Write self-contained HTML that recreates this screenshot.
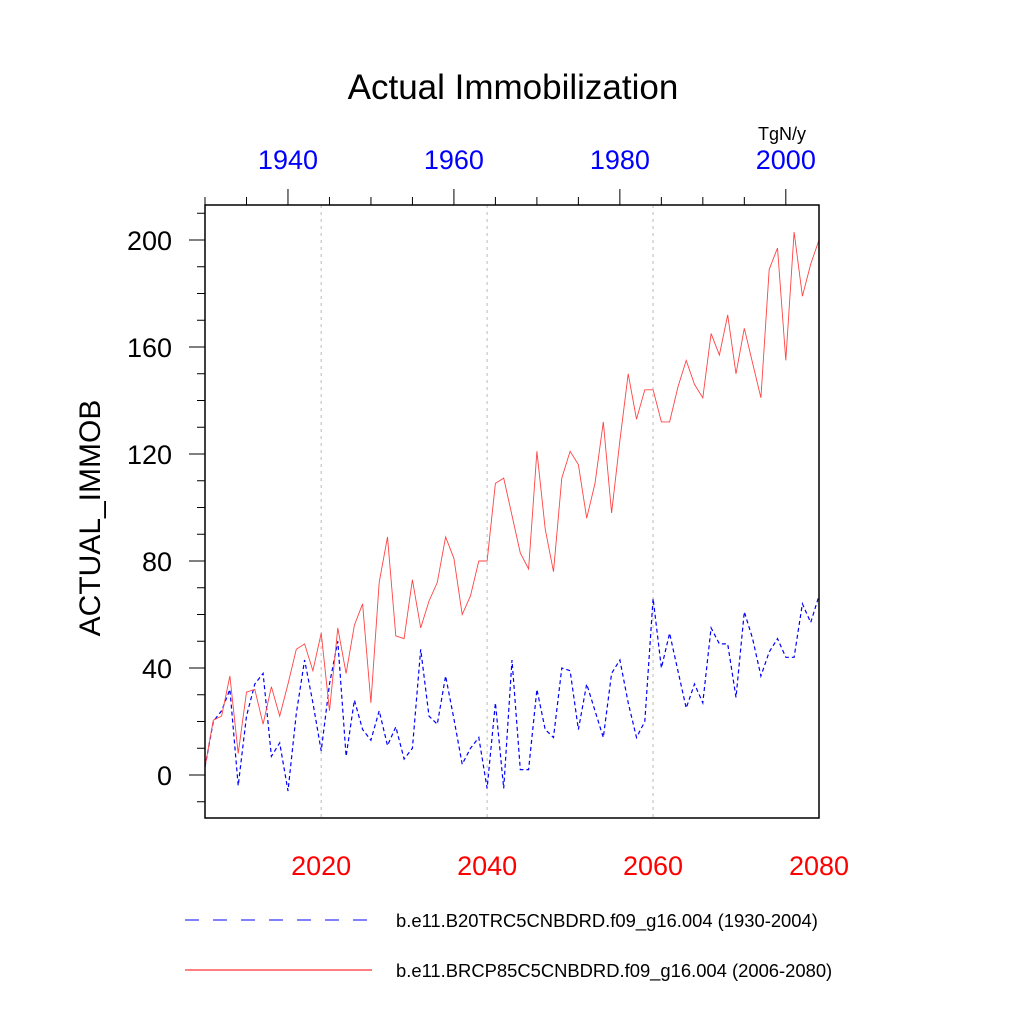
<!DOCTYPE html>
<html><head><meta charset="utf-8"><style>
html,body{margin:0;padding:0;background:#fff;}
svg{display:block;font-family:"Liberation Sans",sans-serif;}
</style></head><body>
<svg id="chart" width="1024" height="1024" xmlns="http://www.w3.org/2000/svg">
<rect width="1024" height="1024" fill="#fff"/>
<text x="513" y="99" font-size="35" text-anchor="middle">Actual Immobilization</text>
<text x="806" y="140" font-size="18" text-anchor="end">TgN/y</text>
<text transform="translate(100,518) rotate(-90)" font-size="30" text-anchor="middle">ACTUAL_IMMOB</text>
<g id="grid"></g>
<g id="series"></g>
<rect x="205" y="205" width="614" height="613" fill="none" stroke="#000" stroke-width="1.5"/>
<g id="axes"></g>
<g>
<line x1="185" y1="920" x2="372" y2="920" stroke="#00f" stroke-width="1" stroke-dasharray="14,14"/>
<text x="396" y="927" font-size="18.4">b.e11.B20TRC5CNBDRD.f09_g16.004 (1930-2004)</text>
<line x1="185" y1="970" x2="372" y2="970" stroke="#f00" stroke-width="1"/>
<text x="396" y="977" font-size="18.4">b.e11.BRCP85C5CNBDRD.f09_g16.004 (2006-2080)</text>
</g>
</svg>
<script>
const redYears0 = 2006;
const blueYears0 = 1930;
const redValues = [3,20.5,22,37,8,31,32,19,33,22,34,47,49,39,53,24,55,38,56,64,27,72,89,52,51,73,55,65,72,89,81,60,67,80,80,109,111,97,83,77,121,92,76,111,121,116,96,109,132,98,125,150,133,144,144,132,132,145,155,146,141,165,157,172,150,167,154,141,189,197,155,203,179,191,200];
const blueValues = [3,20,24,32,-4,22,34,38,7,12,-6,23,43,27,9,34,50,7,28,17,13,24,11,18,6,10,47,22,19,37,21,4,10,14,-5,27,-5,43,2,2,32,17,14,40,39,17,34,24,14,38,43,27,14,20,66,40,53,39,25,34,27,55,49,49,29,61,51,37,46,51,44,44,64,57,67];
const yTicks = [0,40,80,120,160,200];
const bottomTicks = [2020,2040,2060,2080];
const topTicks = [1940,1960,1980,2000];

const NS="http://www.w3.org/2000/svg";
const X0=205,X1=819,Y0=205,Y1=818;
const xR=y=>X0+(y-2006)*(X1-X0)/74;
const xB=y=>X0+(y-1930)*(X1-X0)/74;
const yS=v=>775-v*(775-240)/200;
function mk(tag,attrs,parent){const e=document.createElementNS(NS,tag);for(const k in attrs)e.setAttribute(k,attrs[k]);parent.appendChild(e);return e;}
const grid=document.getElementById('grid'),ser=document.getElementById('series'),axes=document.getElementById('axes');

[2020,2040,2060].forEach(y=>{
 const l=mk('line',{x1:xR(y),x2:xR(y),y1:Y0,y2:Y1,stroke:'#bbb','stroke-width':1,'stroke-dasharray':'3,4'},grid);
 
 
});

const bp=blueValues.map((v,i)=>xB(blueYears0+i).toFixed(1)+','+yS(v).toFixed(1)).join(' ');
const bl=mk('polyline',{points:bp,fill:'none',stroke:'#00f','stroke-width':1.2,'stroke-dasharray':'4,3'},ser);


const rp=redValues.map((v,i)=>xR(redYears0+i).toFixed(1)+','+yS(v).toFixed(1)).join(' ');
const rl=mk('polyline',{points:rp,fill:'none',stroke:'#f44','stroke-width':0.9},ser);



for(let v=-10;v<=210;v+=10){const y=yS(v);if(y<Y0||y>Y1)continue;const maj=v%40===0;
 mk('line',{x1:maj?189:197,x2:X0,y1:y,y2:y,stroke:'#000','stroke-width':1},axes);}
yTicks.forEach(v=>{const t=mk('text',{x:172,y:yS(v)+10,'font-size':27,'text-anchor':'end'},axes);t.textContent=v;
 
 });
for(let yr=1930;yr<=2004;yr+=5){const x=xB(yr);const maj=yr%20===0;
 mk('line',{x1:x,x2:x,y1:maj?189:197,y2:Y0,stroke:'#000','stroke-width':1},axes);}
topTicks.forEach(yr=>{const t=mk('text',{x:xB(yr),y:169,'font-size':27,'text-anchor':'middle',fill:'#00f'},axes);t.textContent=yr;
 
 });
bottomTicks.forEach(yr=>{const t=mk('text',{x:xR(yr),y:875,'font-size':27,'text-anchor':'middle',fill:'#f00'},axes);t.textContent=yr;
 
 });
</script>
</body></html>
